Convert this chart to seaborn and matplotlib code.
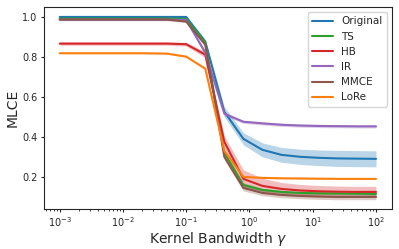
import numpy as np
import pandas as pd
import matplotlib
matplotlib.use("Agg")
import matplotlib.pyplot as plt
import seaborn as sns

# kernel bandwidths
gammas = [0.001, 0.002, 0.005, 0.01, 0.02, 0.05, 0.1, 0.2, 0.4, 0.8,
          1.6, 3.2, 6.4, 12.8, 25.6, 51.2, 100]

methods = ["Original", "TS", "HB", "IR", "MMCE", "LoRe"]

original = [0.998, 0.998, 0.998, 0.998, 0.998, 0.998, 0.998, 0.875, 0.525, 0.39,
            0.335, 0.31, 0.30, 0.295, 0.292, 0.291, 0.29]
original_err = [0.003, 0.003, 0.003, 0.003, 0.003, 0.003, 0.004, 0.01, 0.025, 0.03,
                0.035, 0.037, 0.038, 0.039, 0.04, 0.04, 0.04]

ts = [0.99, 0.99, 0.99, 0.99, 0.99, 0.99, 0.988, 0.87, 0.32, 0.16,
      0.135, 0.125, 0.12, 0.118, 0.117, 0.116, 0.115]
ts_err = [0.004, 0.004, 0.004, 0.004, 0.004, 0.004, 0.005, 0.01, 0.01, 0.01,
          0.008, 0.007, 0.006, 0.006, 0.006, 0.006, 0.006]

hb = [0.865, 0.865, 0.865, 0.865, 0.865, 0.865, 0.862, 0.81, 0.375, 0.19,
      0.155, 0.14, 0.132, 0.128, 0.126, 0.125, 0.125]
hb_err = [0.008, 0.008, 0.008, 0.008, 0.008, 0.008, 0.009, 0.015, 0.03, 0.045,
          0.038, 0.032, 0.03, 0.029, 0.028, 0.028, 0.028]

ir = [0.985, 0.985, 0.985, 0.985, 0.985, 0.985, 0.983, 0.82, 0.515, 0.475,
      0.467, 0.46, 0.456, 0.454, 0.453, 0.452, 0.452]
ir_err = [0.006, 0.006, 0.006, 0.006, 0.006, 0.006, 0.007, 0.012, 0.01, 0.008,
          0.008, 0.008, 0.008, 0.008, 0.008, 0.008, 0.008]

mmce = [0.985, 0.985, 0.985, 0.985, 0.985, 0.985, 0.975, 0.86, 0.30, 0.145,
        0.12, 0.11, 0.105, 0.102, 0.10, 0.10, 0.10]
mmce_err = [0.005, 0.005, 0.005, 0.005, 0.005, 0.005, 0.006, 0.012, 0.015, 0.015,
            0.014, 0.014, 0.014, 0.014, 0.014, 0.014, 0.014]

lore = [0.817, 0.817, 0.817, 0.817, 0.817, 0.815, 0.80, 0.74, 0.33, 0.20,
        0.195, 0.193, 0.192, 0.191, 0.19, 0.19, 0.19]
lore_err = [0.003, 0.003, 0.003, 0.003, 0.003, 0.003, 0.004, 0.006, 0.008, 0.004,
            0.003, 0.003, 0.003, 0.003, 0.003, 0.003, 0.003]

# Configs
tab = sns.color_palette("tab10")
palette = {"Original": tab[0], "TS": tab[2], "HB": tab[3],
           "IR": tab[4], "MMCE": tab[5], "LoRe": tab[1]}

means = {"Original": original, "TS": ts, "HB": hb, "IR": ir, "MMCE": mmce, "LoRe": lore}
errs = {"Original": original_err, "TS": ts_err, "HB": hb_err, "IR": ir_err,
        "MMCE": mmce_err, "LoRe": lore_err}

df = pd.concat([pd.DataFrame({"gamma": gammas, "method": m, "mlce": means[m],
                              "err": errs[m]}) for m in methods])

sns.set_style("ticks")
plt.rcParams["font.family"] = ["DejaVu Sans"]

fig, ax = plt.subplots(figsize=(3.99, 2.49), dpi=100)
fig.subplots_adjust(left=0.11, right=0.982, top=0.972, bottom=0.161)

sns.lineplot(data=df, x="gamma", y="mlce", hue="method", hue_order=methods,
             palette=palette, linewidth=1.5, ax=ax)

for m in methods:
    sub = df[df["method"] == m]
    ax.fill_between(sub["gamma"], sub["mlce"] - sub["err"], sub["mlce"] + sub["err"],
                    color=palette[m], alpha=0.3, linewidth=0)

ax.set_xscale("log")
ax.set_xlabel("Kernel Bandwidth $\\gamma$", fontsize=10, labelpad=1)
ax.set_ylabel("MLCE", fontsize=10, labelpad=2)
ax.set_yticks([0.2, 0.4, 0.6, 0.8, 1.0])
ax.tick_params(axis="both", which="major", labelsize=7, length=2.5, width=0.8, pad=2)
ax.tick_params(axis="both", which="minor", length=1.2, width=0.6)

handles, labels = ax.get_legend_handles_labels()
ax.legend(handles, labels, loc="upper right", fontsize=7.5, frameon=True)

plt.savefig("out.png", dpi=100)
